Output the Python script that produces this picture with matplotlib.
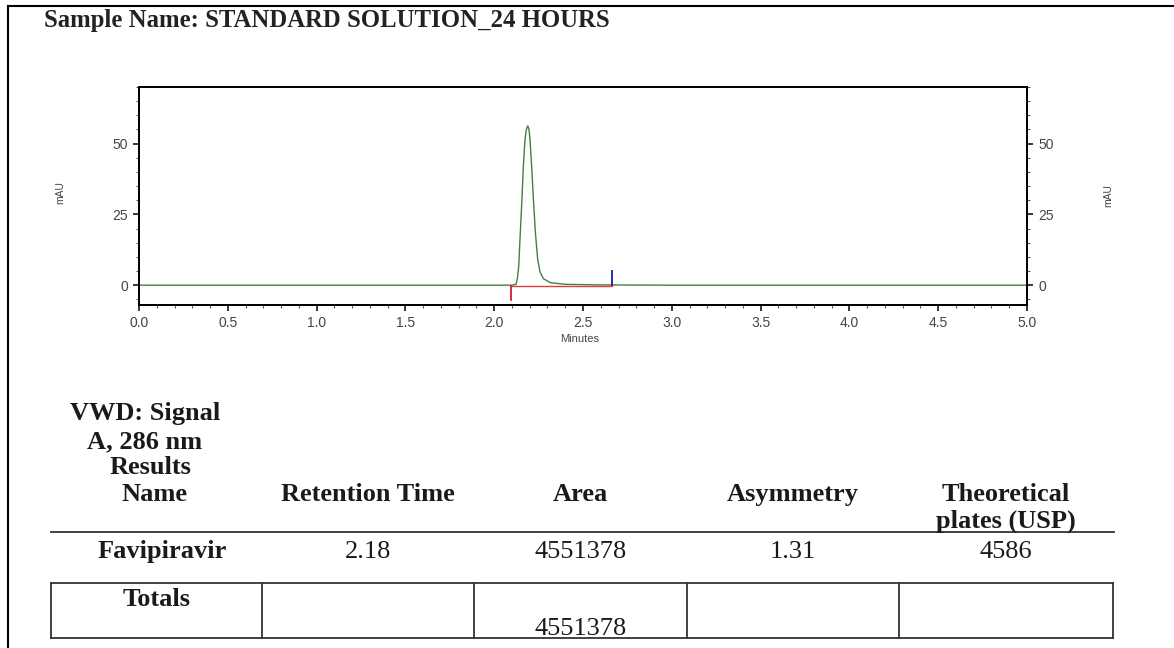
import numpy as np
import matplotlib.pyplot as plt
from matplotlib.ticker import MultipleLocator

W, H = 1174, 648

# chromatogram trace (minutes, mAU)
t_min = [0.0, 0.5, 1.0, 1.5, 2.0, 2.10, 2.123, 2.131, 2.138, 2.147, 2.156, 2.164,
         2.173, 2.181, 2.189, 2.196, 2.202, 2.211, 2.221, 2.232, 2.245, 2.258,
         2.277, 2.315, 2.40, 2.60, 3.0, 4.0, 5.0]
signal = [0.0, 0.0, 0.0, 0.0, 0.0, 0.0, 0.3, 2.5, 6.6, 18.5, 30.0, 41.8,
          51.2, 55.0, 56.3, 55.0, 51.2, 41.8, 30.0, 18.5, 9.0, 4.7,
          2.3, 0.9, 0.3, 0.1, 0.0, 0.0, 0.0]

# integration baseline and markers
base_start, base_end = 2.093, 2.661
base_level = -0.15
mark_len = 5.0

# results table
title = 'Sample Name: STANDARD SOLUTION_24 HOURS'
block_lines = ['VWD: Signal', 'A, 286 nm', 'Results']
headers = ['Name', 'Retention Time', 'Area', 'Asymmetry', 'Theoretical']
header2 = ['', '', '', '', 'plates (USP)']
row = ['Favipiravir', '2.18', '4551378', '1.31', '4586']
row_bold = [True, False, False, False, False]
totals = ['Totals', '', '4551378', '', '']

col_edges = [51, 262, 474, 687, 899, 1113]


def fx(x):
    return x / W


def fy(y):
    return 1 - y / H


fig = plt.figure(figsize=(W / 100, H / 100), dpi=100)
fig.patch.set_facecolor('white')

# page border (top and left)
fig.add_artist(plt.Line2D([fx(8), fx(1174)], [fy(6), fy(6)], color='black', lw=1.5))
fig.add_artist(plt.Line2D([fx(8), fx(8)], [fy(6), fy(648)], color='black', lw=1.5))

serif = 'Liberation Serif'
sans = 'Liberation Sans'
grey = '#444444'

fig.text(fx(44), fy(26.5), title, fontfamily=serif, fontweight='bold',
         fontsize=17.8, color='#222222', va='baseline', ha='left')

ax = fig.add_axes([fx(139), fy(305), (1027 - 139) / W, (305 - 87) / H])
ax.plot(t_min, signal, color='#447f44', lw=1.0, zorder=3)
ax.plot([base_start, base_end], [base_level, base_level], color='#e83a3a', lw=1.0, zorder=4)
ax.plot([base_start, base_start], [base_level, base_level - mark_len], color='#d01f2a', lw=1.3, zorder=4)
ax.plot([base_end, base_end], [0, mark_len], color='#1a1aa0', lw=1.3, zorder=4)

ax.set_xlim(0, 5)
ax.set_ylim(-7, 70)
ax.xaxis.set_major_locator(MultipleLocator(0.5))
ax.xaxis.set_minor_locator(MultipleLocator(0.1))
ax.yaxis.set_major_locator(MultipleLocator(25))
ax.yaxis.set_minor_locator(MultipleLocator(5))
ax.xaxis.set_major_formatter(plt.FormatStrFormatter('%.1f'))

ax2 = ax.twinx()
ax2.set_ylim(ax.get_ylim())
ax2.yaxis.set_major_locator(MultipleLocator(25))
ax2.yaxis.set_minor_locator(MultipleLocator(5))

for a in (ax, ax2):
    for s in a.spines.values():
        s.set_linewidth(1.3)
    a.tick_params(which='major', length=4.5, width=1.1, colors='black',
                  labelcolor=grey, labelsize=10, pad=3.5)
    a.tick_params(which='minor', length=2.2, width=0.8, colors='#555555')
    for lab in a.get_xticklabels() + a.get_yticklabels():
        lab.set_fontfamily(sans)

fig.text(fx(580), fy(339), 'Minutes', fontfamily=sans, fontsize=8,
         color=grey, ha='center', va='center')
fig.text(fx(60), fy(193), 'mAU', fontfamily=sans, fontsize=7.5, color=grey,
         rotation=90, ha='center', va='center')
fig.text(fx(1108), fy(196), 'mAU', fontfamily=sans, fontsize=7.5, color=grey,
         rotation=90, ha='center', va='center')

# table
tfs = 19
tcol = '#1a1a1a'
block_x = [145, 145, 150]
block_y = [420, 448, 474]
for s, x, y in zip(block_lines, block_x, block_y):
    fig.text(fx(x), fy(y), s, fontfamily=serif, fontweight='bold', fontsize=tfs,
             color=tcol, ha='center', va='baseline')

centers = [(a + b) / 2 for a, b in zip(col_edges[:-1], col_edges[1:])]
centers[0] = 155
for c, h1, h2 in zip(centers, headers, header2):
    fig.text(fx(c), fy(501), h1, fontfamily=serif, fontweight='bold', fontsize=tfs,
             color=tcol, ha='center', va='baseline')
    if h2:
        fig.text(fx(c), fy(528), h2, fontfamily=serif, fontweight='bold', fontsize=tfs,
                 color=tcol, ha='center', va='baseline')

fig.add_artist(plt.Line2D([fx(51), fx(1114)], [fy(532), fy(532)], color='#333333', lw=1.3))

row_x = list(centers)
row_x[0] = 162
for c, v, b in zip(row_x, row, row_bold):
    fig.text(fx(c), fy(558), v, fontfamily=serif, fontweight='bold' if b else 'normal',
             fontsize=tfs, color=tcol, ha='center', va='baseline')

# totals box
top, bot = 583, 638
fig.add_artist(plt.Line2D([fx(col_edges[0]), fx(col_edges[-1])], [fy(top), fy(top)], color='#333333', lw=1.3))
fig.add_artist(plt.Line2D([fx(col_edges[0]), fx(col_edges[-1])], [fy(bot), fy(bot)], color='#333333', lw=1.3))
for e in col_edges:
    fig.add_artist(plt.Line2D([fx(e), fx(e)], [fy(top), fy(bot)], color='#333333', lw=1.3))

tcent = [(a + b) / 2 for a, b in zip(col_edges[:-1], col_edges[1:])]
fig.text(fx(tcent[0]), fy(606), totals[0], fontfamily=serif, fontweight='bold',
         fontsize=tfs, color=tcol, ha='center', va='baseline')
for c, v in zip(tcent[1:], totals[1:]):
    if v:
        fig.text(fx(c), fy(635), v, fontfamily=serif, fontsize=tfs, color=tcol,
                 ha='center', va='baseline')

fig.savefig('out.png', dpi=100)
